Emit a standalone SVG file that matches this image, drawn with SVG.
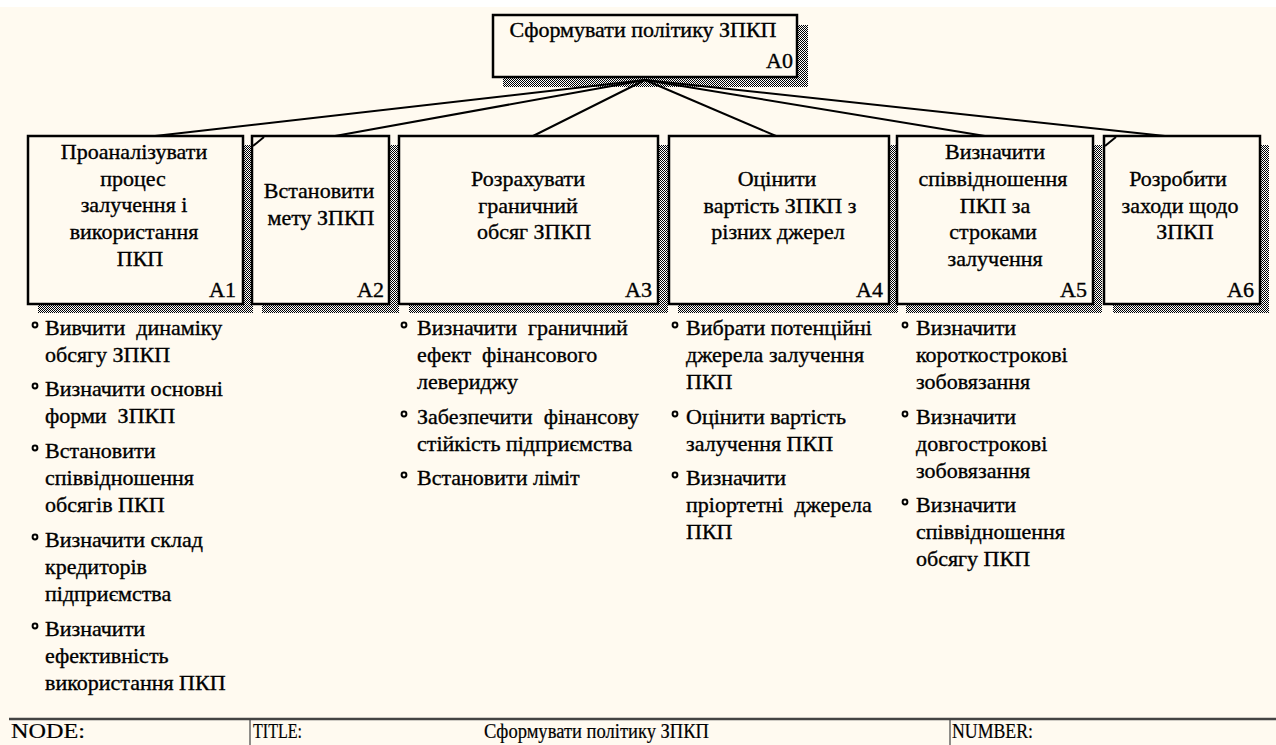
<svg xmlns="http://www.w3.org/2000/svg" width="1276" height="745" viewBox="0 0 1276 745" font-family="'Liberation Serif', 'Times New Roman', serif" font-size="22">
<defs>
<pattern id="hatch" width="2" height="2" patternUnits="userSpaceOnUse">
<rect width="2" height="2" fill="#ffffff"/>
<rect x="0" y="0" width="1" height="1" fill="#000"/>
<rect x="1" y="1" width="1" height="1" fill="#000"/>
</pattern>
</defs>
<style>
text.t{font-family:'Liberation Serif','Times New Roman',serif;font-size:22px;fill:#000;stroke:#000;stroke-width:0.35}
.c{text-anchor:middle}
.r{text-anchor:end}
.box{fill:#FFFAF0;stroke:#000;stroke-width:2.5}
.sh{fill:url(#hatch)}
.b{fill:#FFFAF0;stroke:#000;stroke-width:2}
.ln{stroke:#000;stroke-width:2;fill:none}
text.ft{font-family:'Liberation Serif','Times New Roman',serif;font-size:20px;fill:#000;stroke:#000;stroke-width:0.2}
</style>
<rect x="0" y="0" width="1276" height="745" fill="#FFFAF0"/>
<rect x="0" y="0" width="1276" height="7" fill="#ffffff"/>

<g id="A0">
<rect class="sh" x="503" y="25" width="305" height="62"/>
<rect class="box" x="493" y="15" width="304" height="62"/>
<text class="t c" x="643" y="37">Сформувати політику ЗПКП</text>
<text class="t r" x="793" y="68">A0</text>
</g>

<g id="A1">
<rect class="sh" x="38" y="145" width="215" height="168"/>
<rect class="box" x="28" y="136" width="215" height="168"/>
<text class="t c"><tspan x="134" y="159">Проаналізувати</tspan><tspan x="133" y="186">процес</tspan><tspan x="134" y="212">залучення і</tspan><tspan x="134" y="239">використання</tspan><tspan x="140" y="266">ПКП</tspan></text>
<text class="t r" x="236" y="297">A1</text>
</g>

<g id="A2">
<rect class="sh" x="262" y="145" width="137" height="168"/>
<rect class="box" x="252" y="136" width="137" height="168"/>
<line class="ln" x1="253" y1="146" x2="264" y2="137"/>
<text class="t c"><tspan x="319" y="198">Встановити</tspan><tspan x="321" y="225">мету ЗПКП</tspan></text>
<text class="t r" x="384" y="297">A2</text>
</g>

<g id="A3">
<rect class="sh" x="409" y="145" width="259" height="168"/>
<rect class="box" x="399" y="136" width="259" height="168"/>
<text class="t c"><tspan x="528" y="186">Розрахувати</tspan><tspan x="528" y="213">граничний</tspan><tspan x="534" y="239">обсяг ЗПКП</tspan></text>
<text class="t r" x="652" y="297">A3</text>
</g>

<g id="A4">
<rect class="sh" x="678" y="145" width="220" height="168"/>
<rect class="box" x="669" y="136" width="220" height="168"/>
<text class="t c"><tspan x="777" y="186">Оцінити</tspan><tspan x="780" y="213">вартість ЗПКП з</tspan><tspan x="778" y="239">різних джерел</tspan></text>
<text class="t r" x="883" y="297">A4</text>
</g>

<g id="A5">
<rect class="sh" x="906" y="145" width="196" height="168"/>
<rect class="box" x="897" y="136" width="196" height="168"/>
<text class="t c"><tspan x="995" y="159">Визначити</tspan><tspan x="993" y="186">співвідношення</tspan><tspan x="995" y="213">ПКП за</tspan><tspan x="993" y="239">строками</tspan><tspan x="995" y="266">залучення</tspan></text>
<text class="t r" x="1087" y="297">A5</text>
</g>

<g id="A6">
<rect class="sh" x="1113" y="145" width="156" height="168"/>
<rect class="box" x="1104" y="136" width="156" height="168"/>
<line class="ln" x1="1105" y1="146" x2="1116" y2="137"/>
<text class="t c"><tspan x="1178" y="186">Розробити</tspan><tspan x="1180" y="213">заходи щодо</tspan><tspan x="1185" y="239">ЗПКП</tspan></text>
<text class="t r" x="1254" y="297">A6</text>
</g>

<g id="connectors">
<line class="ln" x1="645" y1="80" x2="155" y2="136"/>
<line class="ln" x1="645" y1="80" x2="335" y2="136"/>
<line class="ln" x1="645" y1="80" x2="533" y2="136"/>
<line class="ln" x1="645" y1="80" x2="776" y2="136"/>
<line class="ln" x1="645" y1="80" x2="985" y2="136"/>
<line class="ln" x1="645" y1="80" x2="1165" y2="136"/>
</g>

<g id="notes-A1">
<circle class="b" cx="35" cy="325" r="2.4"/>
<circle class="b" cx="35" cy="386" r="2.4"/>
<circle class="b" cx="35" cy="448" r="2.4"/>
<circle class="b" cx="35" cy="537" r="2.4"/>
<circle class="b" cx="35" cy="626" r="2.4"/>
<text class="t" xml:space="preserve"><tspan x="45" y="335">Вивчити  динаміку</tspan><tspan x="45" y="362">обсягу ЗПКП</tspan><tspan x="45" y="396">Визначити основні</tspan><tspan x="45" y="423">форми  ЗПКП</tspan><tspan x="45" y="458">Встановити</tspan><tspan x="45" y="485">співвідношення</tspan><tspan x="45" y="512">обсягів ПКП</tspan><tspan x="45" y="547">Визначити склад</tspan><tspan x="45" y="574">кредиторів</tspan><tspan x="45" y="601">підприємства</tspan><tspan x="45" y="636">Визначити</tspan><tspan x="45" y="663">ефективність</tspan><tspan x="45" y="690">використання ПКП</tspan></text>
</g>

<g id="notes-A3">
<circle class="b" cx="404" cy="325" r="2.4"/>
<circle class="b" cx="404" cy="414" r="2.4"/>
<circle class="b" cx="404" cy="475" r="2.4"/>
<text class="t" xml:space="preserve"><tspan x="417" y="335">Визначити  граничний</tspan><tspan x="417" y="362">ефект  фінансового</tspan><tspan x="417" y="389">левериджу</tspan><tspan x="417" y="424">Забезпечити  фінансову</tspan><tspan x="417" y="451">стійкість підприємства</tspan><tspan x="417" y="485">Встановити ліміт</tspan></text>
</g>

<g id="notes-A4">
<circle class="b" cx="675" cy="325" r="2.4"/>
<circle class="b" cx="675" cy="414" r="2.4"/>
<circle class="b" cx="675" cy="475" r="2.4"/>
<text class="t" xml:space="preserve"><tspan x="686" y="335">Вибрати потенційні</tspan><tspan x="686" y="362">джерела залучення</tspan><tspan x="686" y="389">ПКП</tspan><tspan x="686" y="424">Оцінити вартість</tspan><tspan x="686" y="451">залучення ПКП</tspan><tspan x="686" y="485">Визначити</tspan><tspan x="686" y="512">пріортетні  джерела</tspan><tspan x="686" y="539">ПКП</tspan></text>
</g>

<g id="notes-A5">
<circle class="b" cx="905" cy="325" r="2.4"/>
<circle class="b" cx="905" cy="414" r="2.4"/>
<circle class="b" cx="905" cy="502" r="2.4"/>
<text class="t" xml:space="preserve"><tspan x="916" y="335">Визначити</tspan><tspan x="916" y="362">короткострокові</tspan><tspan x="916" y="389">зобовязання</tspan><tspan x="916" y="424">Визначити</tspan><tspan x="916" y="451">довгострокові</tspan><tspan x="916" y="478">зобовязання</tspan><tspan x="916" y="512">Визначити</tspan><tspan x="916" y="539">співвідношення</tspan><tspan x="916" y="566">обсягу ПКП</tspan></text>
</g>

<g id="footer">
<line x1="9" y1="719" x2="1276" y2="719" stroke="#444" stroke-width="2.5"/>
<line x1="250" y1="719" x2="250" y2="745" stroke="#444" stroke-width="1.2"/>
<line x1="950" y1="719" x2="950" y2="745" stroke="#444" stroke-width="1.2"/>
<text class="ft" x="11" y="738" textLength="74" lengthAdjust="spacingAndGlyphs">NODE:</text>
<text class="ft" x="253" y="738" textLength="49" lengthAdjust="spacingAndGlyphs">TITLE:</text>
<text class="ft" x="484" y="738" textLength="225" lengthAdjust="spacingAndGlyphs">Сформувати політику ЗПКП</text>
<text class="ft" x="952" y="738" textLength="81" lengthAdjust="spacingAndGlyphs">NUMBER:</text>
</g>
</svg>
